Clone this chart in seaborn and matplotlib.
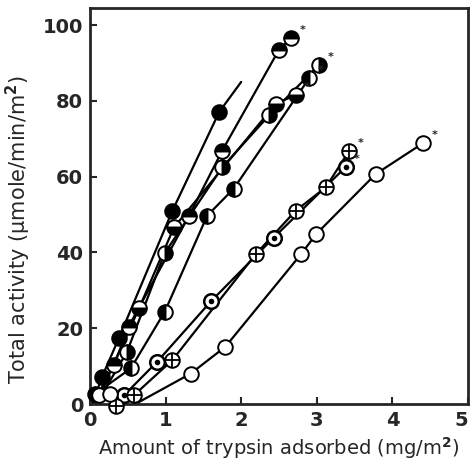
import matplotlib
matplotlib.use("Agg")
import matplotlib.pyplot as plt
import pandas as pd
import seaborn as sns

# ---- data ----
full_x = [0.16, 0.38, 1.09, 1.71]
full_y = [7.2, 17.3, 51.0, 77.1]
full_line_start = [0.04, 0.5]
full_line_end = [2.0, 85.0]

top_x = [0.32, 0.51, 1.31, 1.75, 2.50, 2.66]
top_y = [10.3, 20.4, 49.7, 66.9, 93.5, 96.6]
top_line_start = [0.05, 0.5]

bottom_x = [0.65, 1.11, 2.46, 2.72]
bottom_y = [25.3, 46.6, 79.3, 81.5]
bottom_line_start = [0.08, 0.5]

right_x = [0.49, 0.99, 1.75, 2.37, 3.03]
right_y = [13.8, 39.9, 62.5, 76.2, 89.5]
right_line_start = [0.1, 0.5]

left_x = [0.07, 0.54, 0.99, 1.55, 1.90, 2.90]
left_y = [2.7, 9.4, 24.4, 49.7, 56.8, 86.0]
left_line_start = [0.04, 0.3]

dot_x = [0.45, 0.89, 1.60, 2.43, 3.38]
dot_y = [2.3, 11.2, 27.1, 43.9, 62.5]
dot_line_start = [0.3, 0.0]

plus_x = [0.34, 0.58, 1.09, 2.19, 2.72, 3.12, 3.43]
plus_y = [-0.4, 2.3, 11.6, 39.5, 51.0, 57.2, 66.9]
plus_line_start = [0.45, 0.0]

open_x = [1.33, 1.79, 2.79, 2.99, 3.78, 4.41]
open_y = [8.0, 15.1, 39.5, 44.8, 60.7, 68.9]
open_line_start = [0.6, 0.0]
open_extra_x = [0.12, 0.27]
open_extra_y = [2.4, 2.7]

x_ticks = [0, 1, 2, 3, 4, 5]
y_ticks = [0, 20, 40, 60, 80, 100]
x_label = "Amount of trypsin adsorbed (mg/m$^{\\mathbf{2}}$)"
y_label = "Total activity (\u03bcmole/min/m$^{\\mathbf{2}}$)"

# series definitions: name -> (x, y, line start, line end, starred)
series = {
    "full": (full_x, full_y, full_line_start, full_line_end, False),
    "top": (top_x, top_y, top_line_start, None, True),
    "bottom": (bottom_x, bottom_y, bottom_line_start, None, True),
    "right": (right_x, right_y, right_line_start, None, True),
    "left": (left_x, left_y, left_line_start, None, True),
    "dot": (dot_x, dot_y, dot_line_start, None, True),
    "plus": (plus_x, plus_y, plus_line_start, None, True),
    "open": (open_x, open_y, open_line_start, None, True),
}

sns.set_style("ticks")
plt.rcParams["font.family"] = ["DejaVu Sans"]

fig = plt.figure(figsize=(4.72, 4.61), dpi=100)
ax = fig.add_axes([0.1907, 0.1236, 0.8008, 0.859])

rows = []
for name, (xs, ys, st, en, _) in series.items():
    lx = ([st[0]] if st else []) + list(xs) + ([en[0]] if en else [])
    ly = ([st[1]] if st else []) + list(ys) + ([en[1]] if en else [])
    for i, (a, b) in enumerate(zip(lx, ly)):
        rows.append({"series": name, "order": i, "x": a, "y": b})
lines_df = pd.DataFrame(rows)

sns.lineplot(data=lines_df, x="x", y="y", units="series", estimator=None,
             sort=False, color="black", lw=1.6, ax=ax, legend=False)

ms = 10.5
mew = 1.4
fills = {"full": "full", "top": "top", "bottom": "bottom",
         "right": "right", "left": "left"}
for name, fs in fills.items():
    xs, ys = series[name][0], series[name][1]
    ax.plot(xs, ys, ls="none", marker="o", ms=ms, mew=mew, mec="black",
            mfc="black", mfcalt="white", fillstyle=fs, clip_on=False, zorder=3)

for name in ["dot", "plus", "open"]:
    xs, ys = series[name][0], series[name][1]
    ax.plot(xs, ys, ls="none", marker="o", ms=ms, mew=1.8 if name == "dot" else mew,
            mec="black", mfc="white", clip_on=False, zorder=3)
ax.plot(open_extra_x, open_extra_y, ls="none", marker="o", ms=ms, mew=mew,
        mec="black", mfc="white", clip_on=False, zorder=3)
ax.plot(dot_x, dot_y, ls="none", marker="o", ms=4, mew=0, mfc="black",
        clip_on=False, zorder=4)
ax.plot(plus_x, plus_y, ls="none", marker="+", ms=ms * 0.95, mew=1.3,
        mec="black", clip_on=False, zorder=4)

for name, (xs, ys, st, en, star) in series.items():
    if star:
        ax.annotate("*", (xs[-1], ys[-1]), xytext=(6, 2), textcoords="offset points",
                    fontsize=8, fontweight="bold", ha="left", va="bottom")

ax.set_xlim(0, 5)
ax.set_ylim(0, 104.5)
ax.set_xticks(x_ticks)
ax.set_yticks(y_ticks)
ax.tick_params(direction="in", length=5, width=1.5, labelsize=14, pad=5)
for lab in ax.get_xticklabels() + ax.get_yticklabels():
    lab.set_fontweight("bold")
ax.get_xticklabels()[-1].set_horizontalalignment("right")
for sp in ax.spines.values():
    sp.set_linewidth(2.0)
    sp.set_visible(True)

ax.set_xlabel(x_label, fontsize=14, labelpad=4)
ax.set_ylabel(y_label, fontsize=15)
ax.yaxis.set_label_coords(-0.15, 0.44)

fig.savefig("out.png", dpi=100)
